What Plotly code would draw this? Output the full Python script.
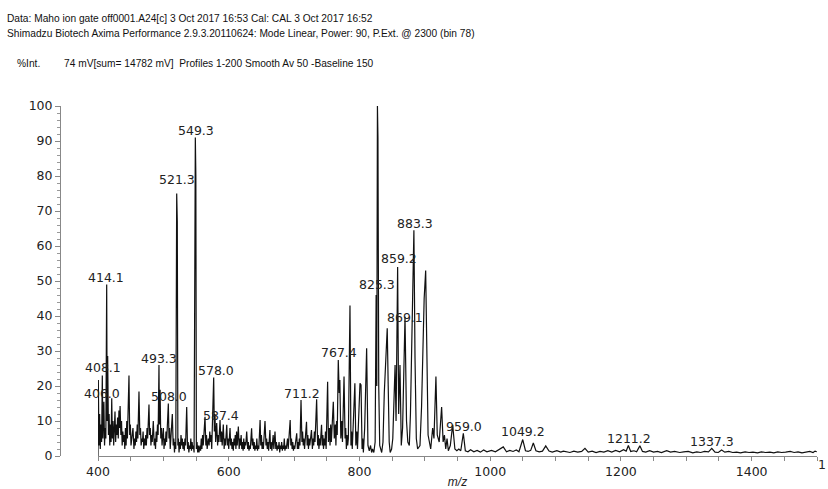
import plotly.graph_objects as go

# ---- spectrum profile (m/z, %Int.) ----
mz = [
400, 400.5, 401.5, 402.5, 403.5, 404.5, 405.5, 406.6, 407.5, 408.2, 409, 410, 411, 412, 413.3, 414, 414.8, 416, 417, 418,
419, 420, 421, 422, 423, 424, 425, 426, 427, 428, 429, 430, 431, 432, 433, 433.8, 435, 436, 437, 438,
439, 440, 441, 442, 443, 444, 445, 446, 447.4, 448.5, 449.5, 450.5, 452, 453.5, 455, 456, 457, 458, 459, 460,
461, 462.7, 464, 465, 466, 467, 468, 469, 470, 471, 472, 473, 474, 475, 476, 477, 478, 479, 480, 481,
482, 483, 484.6, 486, 487, 488, 489, 490, 491, 492, 493.3, 494, 495, 496, 497, 498, 499, 500, 501, 502,
503, 504, 505, 506, 507.6, 508.6, 509.5, 510.5, 512, 513.7, 515, 516, 517, 518, 519, 520.4, 521.3, 522.2, 523, 524,
525, 526, 527, 528, 529, 530, 531, 532, 533, 534, 535.7, 537, 538, 539, 540, 541, 542, 543, 544, 545,
546, 547, 548.9, 549.7, 550.5, 551.5, 552.5, 553.5, 554.5, 556, 557, 558, 559, 560, 561, 562, 563.7, 565, 566, 567,
568.8, 570, 571, 572, 573, 574, 575, 577, 578, 579, 580, 581.6, 583, 584, 585, 586.7, 588, 589, 590, 591.7,
593, 594, 595, 596, 597, 598, 599, 600, 601, 602, 603, 604, 605, 606, 607, 608, 609, 610, 611, 612,
613, 614.7, 616, 617, 618, 619, 620, 621, 622, 623, 624, 625, 626, 627.5, 629, 630, 631, 632, 633, 635,
636, 637, 638, 639, 640, 641, 642, 643, 644, 645, 646, 648, 649, 650, 651, 652, 653, 655.5, 657, 658,
659, 660, 661, 663, 664, 665, 666, 667, 668, 669, 670.8, 672, 673, 674, 675, 676, 677, 678, 679, 680,
681, 682, 683, 684, 685, 686, 687, 688, 690, 691, 692, 694, 695, 696, 697, 698, 699, 700, 701, 702,
704, 705, 706, 707, 708, 709, 710.6, 712, 713, 714, 715, 716, 717, 719, 720, 721, 722, 723, 724, 725,
726.6, 728, 729, 730, 731, 732, 734.5, 736, 737, 738, 739, 740, 742, 743, 744, 745, 746, 747, 748, 749,
751.3, 752.5, 754, 755, 756, 757, 758, 760, 761.5, 763, 764, 765, 766, 767.6, 769, 770, 771.5, 773, 774, 776.4,
778, 779, 780, 781, 782, 783, 785.5, 787, 788, 789, 791, 793, 794.5, 796, 797, 798, 800.8, 802.4, 804, 805,
806, 808, 811, 813, 815, 817, 818.6, 820, 822, 824, 825.5, 826.5, 827.5, 828.3, 829.5, 831, 834, 836, 838, 840,
842.5, 844, 845.5, 847, 849.2, 851, 853, 854.5, 856, 858.4, 860, 862, 864, 866, 869.7, 872, 874, 876.3, 878, 880,
882, 883.3, 885, 887, 889, 892.6, 895, 897, 899, 901.3, 903, 905, 909, 912, 914, 917, 919, 922, 925.7, 928,
930, 932, 934, 936, 939, 942.6, 946, 949, 952, 955, 958.9, 962, 966, 970, 975, 980, 985, 990, 995, 1002,
1008, 1014, 1020, 1025, 1030, 1035, 1040, 1044, 1049.8, 1054, 1058, 1062, 1066, 1070, 1075, 1080, 1085, 1090, 1095, 1102,
1108, 1112, 1117, 1122, 1128, 1134, 1140, 1145, 1150, 1156, 1162, 1168, 1174, 1180, 1186, 1192, 1198, 1204, 1208, 1211.4,
1215, 1220, 1224, 1229, 1233, 1238, 1244, 1250, 1256, 1262, 1270, 1276, 1282, 1290, 1296, 1303, 1310, 1316, 1322, 1328,
1334, 1339, 1344, 1349, 1354, 1359, 1365, 1371, 1377, 1383, 1390, 1396, 1402, 1409, 1415, 1421, 1428, 1434, 1440, 1446,
1452, 1459, 1465, 1471, 1477, 1483, 1489, 1494, 1497, 1499.6,
]
intensity = [
0, 21.7, 3, 12, 2, 9, 4, 23, 5, 13, 15.5, 3, 8, 5, 49, 10, 28.6, 6, 12, 3,
9, 4, 16.5, 5, 10, 3, 8, 12.7, 4, 9, 6, 11, 5, 13, 8, 14.3, 6, 10, 3, 7,
4, 6, 2, 8, 3, 10, 5, 12, 23, 6, 9, 3, 6, 8, 2, 5, 3, 7, 4, 9,
5, 18.4, 6, 8, 3, 5, 4, 7, 2, 5, 3, 6, 3, 8, 5, 10, 14.7, 6, 8, 3,
6, 4, 10, 3, 5, 2, 7, 4, 9, 6, 26, 9, 18.9, 5, 8, 3, 6, 8, 2, 5,
3, 7, 4, 9, 15, 5, 8, 2, 6, 12, 3, 5, 1, 4, 2, 75, 67, 3, 5, 1,
4, 2, 6, 3, 5, 2, 4, 1.5, 5, 3, 14, 2, 4, 1, 3, 2, 5, 1.5, 4, 2,
3, 1, 91, 80, 2, 4, 1, 3, 1, 3, 1.5, 5, 2, 6, 3, 8, 11.2, 3, 6, 2,
5, 3, 7, 4, 6, 2, 8, 22.4, 7, 12, 4, 9.4, 3, 6, 4, 10.3, 4, 7, 3, 9,
2, 5, 3, 6, 8.9, 3, 5, 2, 6, 8, 3, 5, 2, 4, 1.5, 5, 3, 6, 2, 7,
3, 8.4, 2, 5, 3, 6, 2, 4, 1.5, 5, 2, 4, 3, 7, 2, 4, 1.5, 3, 2, 7.9,
3, 5, 2, 4, 1.5, 3, 2, 5, 1.5, 3, 2, 10.3, 3, 6, 2, 4, 2, 10, 3, 5,
2, 4, 1.5, 7.4, 2, 4, 1.5, 3, 6, 2, 7, 2, 4, 1.5, 3, 2, 4, 1, 3, 2,
4, 1.5, 3, 2, 5, 1.5, 3, 2, 5, 2, 4, 10.3, 3, 5, 2, 4, 1.5, 3, 2, 4,
6.5, 2, 4, 2, 5, 3, 16, 4, 7, 3, 5, 2, 6, 9.8, 3, 6, 2, 5, 3, 6,
7.4, 2, 5, 3, 7, 4, 16.2, 3, 6, 2, 5, 3, 8.9, 3, 6, 2, 5, 3, 7, 2,
21.2, 4, 8, 3, 9, 4, 7, 15.5, 5, 9, 3, 10, 6, 27.4, 18, 21.7, 5, 10, 4, 22.7,
5, 8, 2, 6, 3, 5, 43, 3, 7, 2, 12, 20.8, 3, 7, 2, 6, 20.8, 20.3, 2, 5,
1, 8, 30.8, 3, 1.5, 3, 1, 2, 1, 4, 46, 20, 100, 91, 20, 3, 1, 4, 18, 25,
36.5, 20, 4, 1, 2, 5, 20, 26, 10, 54, 12, 26, 3, 8, 39.8, 10, 4, 3, 12, 30,
50, 64.5, 28, 5, 2, 3, 14, 30, 45, 53, 25, 6, 2, 8, 5, 22.7, 6, 4, 14, 4,
6, 2, 5, 1.5, 3, 8.9, 2, 1.5, 2, 1.5, 6.5, 1.5, 1.2, 1.8, 1.2, 1.6, 1.1, 1.7, 1.2, 1.6,
1.2, 1.8, 2.6, 1.2, 1.6, 1.3, 1.7, 1.2, 4.7, 1.5, 1.3, 1.6, 3.7, 1.5, 1.2, 1.4, 2.9, 1.4, 1.1, 1.5,
1.1, 1.4, 1.3, 1.0, 1.4, 1.1, 1.3, 2.2, 1.1, 1.4, 1.0, 1.3, 1.1, 1.5, 1.1, 1.6, 1.2, 1.8, 1.4, 3,
1.3, 1.5, 1.2, 2.9, 1.3, 1.1, 1.5, 1.1, 1.3, 1.0, 1.5, 1.1, 1.3, 1.0, 1.2, 1.3, 0.9, 1.2, 1.0, 1.3,
1.2, 2.2, 1.1, 1.0, 1.7, 1.1, 1.3, 1.0, 1.1, 0.9, 1.2, 1.0, 1.1, 0.9, 1.2, 1.0, 1.1, 0.9, 1.2, 1.0,
1.1, 1.3, 1.0, 1.2, 0.9, 1.1, 1.3, 1.0, 1.4, 1.2,
]

# ---- peak labels ----
label_text = ["414.1", "408.1", "406.0", "493.3", "508.0", "521.3", "549.3", "578.0", "587.4", "711.2",
              "767.4", "827.6", "825.3", "859.2", "883.3", "869.1", "959.0", "1049.2", "1211.2", "1337.3"]
label_mz = [412.4, 407.4, 405.6, 492.8, 508.0, 520.6, 550.0, 580.0, 588.7, 711.8,
            768.7, 828.9, 826.6, 860.5, 884.3, 869.7, 960.5, 1050.0, 1213.0, 1339.4]
label_int = [51.0, 25.4, 18.0, 28.0, 17.0, 79.0, 92.9, 24.4, 11.5, 17.9,
             29.5, 102.7, 48.9, 56.3, 66.5, 39.6, 8.4, 6.9, 5.0, 4.1]

header_lines = [
    "Data: Maho ion gate off0001.A24[c] 3 Oct 2017 16:53 Cal: CAL 3 Oct 2017 16:52",
    "Shimadzu Biotech Axima Performance 2.9.3.20110624: Mode Linear, Power: 90, P.Ext. @ 2300 (bin 78)",
]
yaxis_label = "%Int."
info_line = "74 mV[sum= 14782 mV]&nbsp; Profiles 1-200 Smooth Av 50 -Baseline 150"

W, H = 828, 489
ML, MR, MT, MB = 40, 11, 106, 33
PW = W - ML - MR
PH = H - MT - MB


def px(x):
    return (x - ML) / PW


def py(y):
    return (H - MB - y) / PH


fig = go.Figure()
fig.add_trace(go.Scatter(x=mz, y=intensity, mode="lines",
                         line=dict(color="#111", width=1.2), hoverinfo="skip",
                         showlegend=False))

label_font = dict(family="DejaVu Sans, Verdana, sans-serif", size=12.5, color="#222")
for t, x, y in zip(label_text, label_mz, label_int):
    fig.add_annotation(x=x, y=y, xref="x", yref="y", text=t, showarrow=False,
                       font=label_font, xanchor="center", yanchor="middle")

head_font = dict(family="Liberation Sans, Arial, sans-serif", size=10.2, color="#111")
fig.add_annotation(x=px(5), y=py(18), xref="paper", yref="paper", text=header_lines[0],
                   showarrow=False, xanchor="left", yanchor="middle", font=head_font)
fig.add_annotation(x=px(5), y=py(33.5), xref="paper", yref="paper", text=header_lines[1],
                   showarrow=False, xanchor="left", yanchor="middle", font=head_font)
fig.add_annotation(x=px(15), y=py(63), xref="paper", yref="paper", text=yaxis_label,
                   showarrow=False, xanchor="left", yanchor="middle", font=head_font)
fig.add_annotation(x=px(62), y=py(63), xref="paper", yref="paper", text=info_line,
                   showarrow=False, xanchor="left", yanchor="middle", font=head_font)
fig.add_annotation(x=px(822), y=py(464), xref="paper", yref="paper", text="1",
                   showarrow=False, xanchor="center", yanchor="middle", font=label_font)

tick_font = dict(family="DejaVu Sans, Verdana, sans-serif", size=12.5, color="#222")
fig.update_layout(
    width=W, height=H,
    margin=dict(l=ML, r=MR, t=MT, b=MB),
    paper_bgcolor="white", plot_bgcolor="white",
    xaxis=dict(domain=[px(98), 1], range=[400, 1500], showgrid=False, zeroline=False,
               showline=True, linecolor="#888", linewidth=1,
               ticks="outside", ticklen=4, tickcolor="#888", dtick=200, tick0=0,
               minor=dict(dtick=50, ticks="outside", ticklen=4, tickcolor="#888"),
               tickfont=tick_font, automargin=False,
               title=dict(text="<i>m/z</i>", standoff=4,
                          font=dict(family="Liberation Sans, Arial, sans-serif", size=12, color="#222"))),
    yaxis=dict(anchor="free", position=px(60), range=[0, 100], showgrid=False, zeroline=False,
               showline=True, linecolor="#888", linewidth=1,
               ticks="outside", ticklen=5, tickcolor="#888", dtick=10,
               minor=dict(dtick=2, ticks="outside", ticklen=3, tickcolor="#999"),
               tickfont=tick_font, automargin=False),
)

fig.write_html("out.html", config={"displayModeBar": False},
               post_script="document.body.style.margin='0px';")
